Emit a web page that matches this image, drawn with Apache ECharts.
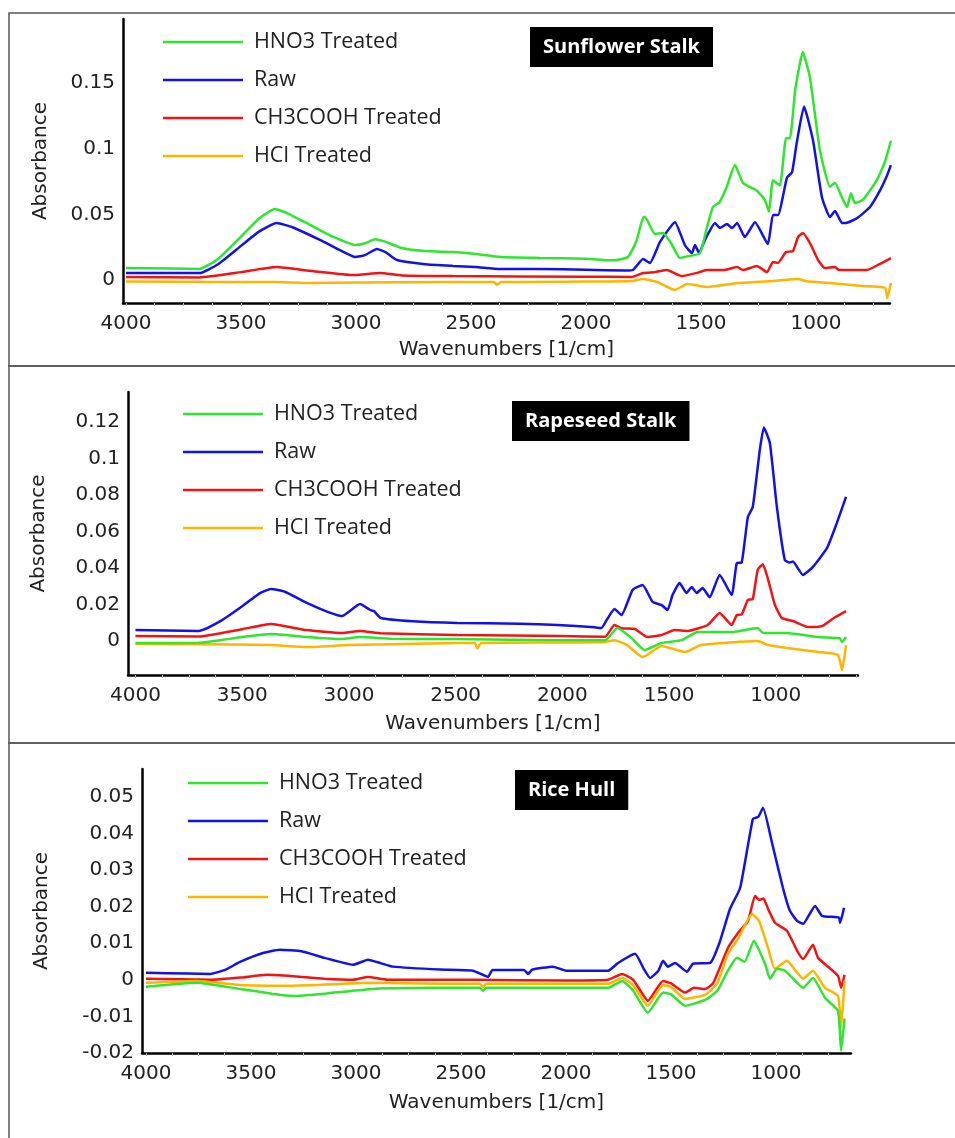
<!DOCTYPE html>
<html>
<head>
<meta charset="utf-8">
<script src="https://cdn.jsdelivr.net/npm/echarts@6/dist/echarts.min.js"></script>
<style>
  html, body { margin: 0; padding: 0; background: #fff; }
  #chart { width: 955px; height: 1138px; }
</style>
</head>
<body>
<div id="chart"></div>
<script>
// legend names, panel titles, tick values
const seriesNames = ["HNO3 Treated", "Raw", "CH3COOH Treated", "HCl Treated"];
const colors = ["#2ee62e", "#1212e8", "#f21414", "#ffb400"];
const panelTitles = ["Sunflower Stalk", "Rapeseed Stalk", "Rice Hull"];
const xTicks = [1000, 1500, 2000, 2500, 3000, 3500, 4000];
const yTicksSun = [0, 0.05, 0.1, 0.15];
const yTicksRape = [0, 0.02, 0.04, 0.06, 0.08, 0.1, 0.12];
const yTicksRice = [-0.02, -0.01, 0, 0.01, 0.02, 0.03, 0.04, 0.05];

// Sunflower stalk spectra [wavenumber, absorbance]
const sunHNO3 = [[4000,0.0091],[3800,0.0088],[3680,0.0084],[3600,0.016],[3500,0.033],[3420,0.047],[3352,0.054],[3300,0.051],[3200,0.042],[3100,0.033],[3004,0.0266],[2960,0.028],[2917,0.031],[2870,0.029],[2800,0.0243],[2700,0.022],[2578,0.0213],[2480,0.0198],[2370,0.0175],[2200,0.0168],[2000,0.0162],[1880,0.015],[1817,0.0175],[1780,0.03],[1750,0.048],[1743,0.048],[1700,0.035],[1665,0.0357],[1630,0.028],[1591,0.0167],[1560,0.018],[1504,0.0205],[1474,0.040],[1448,0.0556],[1420,0.059],[1390,0.07],[1352,0.0875],[1317,0.0738],[1257,0.068],[1222,0.061],[1204,0.052],[1187,0.076],[1157,0.072],[1130,0.108],[1113,0.108],[1090,0.145],[1057,0.1735],[1026,0.154],[983,0.099],[939,0.071],[917,0.074],[890,0.064],[865,0.0556],[848,0.066],[830,0.0586],[796,0.061],[735,0.076],[700,0.09],[674,0.106]];
const sunRaw = [[4000,0.0053],[3800,0.0053],[3680,0.0053],[3600,0.012],[3500,0.026],[3420,0.037],[3345,0.0434],[3274,0.040],[3150,0.030],[3050,0.021],[3004,0.0175],[2960,0.019],[2909,0.0236],[2870,0.021],[2822,0.0152],[2700,0.012],[2578,0.0107],[2480,0.0099],[2374,0.0084],[2200,0.0084],[2000,0.0078],[1830,0.0072],[1796,0.0076],[1752,0.016],[1722,0.013],[1678,0.029],[1613,0.044],[1570,0.0266],[1539,0.0205],[1526,0.0266],[1509,0.021],[1474,0.0335],[1439,0.0434],[1417,0.0396],[1387,0.0426],[1365,0.0396],[1343,0.0434],[1309,0.0327],[1265,0.044],[1209,0.0274],[1187,0.0495],[1165,0.0495],[1126,0.078],[1104,0.082],[1083,0.105],[1052,0.132],[1013,0.1065],[974,0.063],[939,0.048],[917,0.0525],[887,0.0434],[870,0.0434],[822,0.047],[765,0.0556],[722,0.068],[690,0.08],[674,0.0875]];
const sunCH3COOH = [[4000,0.0023],[3680,0.002],[3500,0.006],[3345,0.0099],[3200,0.007],[3004,0.0038],[2896,0.0053],[2800,0.0035],[2578,0.003],[2000,0.0025],[1800,0.0023],[1752,0.0053],[1700,0.006],[1648,0.0076],[1583,0.003],[1520,0.0053],[1474,0.0076],[1400,0.0076],[1343,0.0099],[1317,0.0076],[1257,0.0107],[1213,0.006],[1187,0.0137],[1165,0.013],[1130,0.0213],[1100,0.022],[1078,0.0327],[1057,0.0357],[1026,0.028],[990,0.015],[961,0.0091],[917,0.0099],[900,0.0076],[778,0.0076],[722,0.0122],[674,0.0167]];
const sunHCl = [[4000,-0.0012],[3600,-0.0015],[3345,-0.0015],[3200,-0.0023],[3000,-0.0018],[2600,-0.0015],[2400,-0.0015],[2387,-0.0038],[2370,-0.0015],[2000,-0.0012],[1800,-0.0008],[1752,0.0008],[1690,-0.0015],[1613,-0.0076],[1560,-0.003],[1470,-0.0053],[1340,-0.0023],[1187,-0.0008],[1078,0.0008],[1040,-0.001],[939,-0.0023],[800,-0.0046],[700,-0.006],[690,-0.0137],[674,-0.0023]];

// Rapeseed stalk spectra
const rapeHNO3 = [[4000,-0.0011],[3704,-0.001],[3600,0.0005],[3500,0.0022],[3366,0.0038],[3200,0.0022],[3033,0.0011],[2948,0.0022],[2800,0.0013],[2493,0.0011],[2000,0.0005],[1800,0.0005],[1742,0.0071],[1676,0.0016],[1615,-0.005],[1535,-0.0011],[1441,0.0005],[1366,0.005],[1200,0.005],[1085,0.0071],[1060,0.0044],[950,0.0044],[800,0.0022],[700,0.0015],[690,-0.0005],[671,0.0022]];
const rapeRaw = [[4000,0.006],[3704,0.0055],[3600,0.011],[3500,0.019],[3420,0.026],[3366,0.0285],[3300,0.027],[3200,0.021],[3100,0.016],[3033,0.0137],[2948,0.0203],[2900,0.017],[2883,0.0164],[2850,0.0126],[2700,0.0108],[2493,0.0099],[2200,0.0095],[2024,0.0088],[1850,0.0075],[1817,0.0071],[1790,0.012],[1756,0.0175],[1723,0.0142],[1671,0.028],[1624,0.0307],[1577,0.0214],[1535,0.0197],[1507,0.017],[1484,0.0252],[1451,0.0318],[1418,0.0263],[1394,0.0296],[1371,0.0263],[1343,0.029],[1310,0.024],[1263,0.0362],[1207,0.0252],[1183,0.0427],[1160,0.043],[1131,0.068],[1108,0.0734],[1075,0.1047],[1056,0.117],[1028,0.1085],[995,0.0734],[958,0.0444],[935,0.043],[920,0.0436],[873,0.0362],[827,0.0405],[760,0.051],[714,0.0647],[671,0.079]];
const rapeCH3COOH = [[4000,0.0027],[3704,0.0025],[3500,0.0065],[3366,0.0093],[3200,0.006],[3033,0.0044],[2948,0.0055],[2850,0.0042],[2493,0.0033],[2000,0.0027],[1800,0.0024],[1756,0.0088],[1723,0.007],[1660,0.0066],[1601,0.0022],[1535,0.0033],[1474,0.006],[1413,0.0055],[1319,0.0088],[1263,0.0153],[1207,0.0088],[1183,0.0142],[1160,0.0145],[1131,0.0225],[1108,0.023],[1085,0.039],[1061,0.042],[1038,0.0345],[1005,0.02],[972,0.0126],[920,0.011],[850,0.0077],[784,0.0082],[723,0.013],[671,0.0164]];
const rapeHCl = [[4000,-0.0016],[3700,-0.0018],[3366,-0.0022],[3197,-0.0033],[3000,-0.0022],[2493,-0.0011],[2410,-0.0011],[2399,-0.004],[2380,-0.0011],[2000,-0.0008],[1800,-0.0005],[1756,0.0005],[1700,-0.002],[1624,-0.0088],[1535,-0.0027],[1490,-0.004],[1427,-0.006],[1350,-0.0022],[1085,0.0],[1040,-0.002],[948,-0.0038],[800,-0.006],[709,-0.0077],[690,-0.016],[671,-0.0022]];

// Rice hull spectra
const riceHNO3 = [[4000,-0.0019],[3757,-0.0008],[3552,-0.0025],[3400,-0.0038],[3300,-0.0044],[3150,-0.0038],[2919,-0.0025],[2600,-0.0022],[2410,-0.0022],[2395,-0.003],[2380,-0.0022],[2000,-0.0022],[1800,-0.0022],[1733,-0.0003],[1680,-0.003],[1610,-0.009],[1538,-0.0035],[1500,-0.004],[1433,-0.0071],[1338,-0.0055],[1280,-0.003],[1229,0.0025],[1186,0.006],[1150,0.0049],[1105,0.0107],[1080,0.008],[1050,0.004],[1029,0.0003],[995,0.003],[957,0.0025],[900,-0.0008],[871,-0.0022],[824,0.0005],[767,-0.0049],[705,-0.0085],[690,-0.0194],[674,-0.0106]];
const riceRaw = [[4000,0.0019],[3800,0.0017],[3695,0.0016],[3620,0.0028],[3552,0.0049],[3450,0.0072],[3362,0.0082],[3260,0.0078],[3150,0.006],[3014,0.0041],[2943,0.0055],[2880,0.0045],[2824,0.0036],[2600,0.0028],[2443,0.0025],[2371,0.0008],[2350,0.0027],[2200,0.0027],[2181,0.0016],[2160,0.0028],[2062,0.0036],[2000,0.0025],[1800,0.0025],[1752,0.0046],[1671,0.0071],[1630,0.003],[1600,0.0005],[1560,0.0025],[1538,0.0052],[1515,0.0036],[1481,0.0046],[1424,0.0022],[1395,0.0044],[1314,0.0046],[1270,0.01],[1219,0.0194],[1171,0.0251],[1110,0.044],[1085,0.0445],[1062,0.047],[1019,0.0374],[967,0.0251],[935,0.019],[900,0.0161],[871,0.0153],[814,0.0202],[781,0.0175],[700,0.017],[695,0.0156],[676,0.0197]];
const riceCH3COOH = [[4000,0.0003],[3695,0.0],[3550,0.0006],[3424,0.0014],[3300,0.001],[3150,0.0003],[3014,0.0],[2943,0.0008],[2850,0.0],[2443,0.0],[2000,-0.0002],[1800,0.0],[1733,0.0016],[1680,0.0],[1610,-0.0057],[1538,-0.0003],[1500,-0.001],[1433,-0.0035],[1390,-0.0022],[1338,-0.0025],[1300,-0.001],[1229,0.0087],[1181,0.0128],[1133,0.0161],[1100,0.023],[1080,0.0218],[1060,0.0222],[1038,0.0194],[1005,0.0156],[948,0.0134],[900,0.008],[871,0.0057],[824,0.0096],[800,0.006],[705,0.0011],[690,-0.0022],[674,0.0014]];
const riceHCl = [[4000,-0.0008],[3757,-0.0003],[3552,-0.0014],[3314,-0.0016],[3100,-0.0012],[2948,-0.0008],[2600,-0.0011],[2410,-0.0011],[2395,-0.002],[2380,-0.0011],[2000,-0.0011],[1800,-0.0011],[1733,0.0005],[1680,-0.0015],[1610,-0.0071],[1538,-0.0014],[1500,-0.002],[1433,-0.0052],[1338,-0.0041],[1280,-0.001],[1229,0.0071],[1181,0.0112],[1114,0.018],[1080,0.016],[1038,0.0087],[1005,0.003],[948,0.0052],[900,0.002],[871,0.0003],[824,0.0025],[767,-0.0022],[705,-0.0044],[690,-0.013],[674,-0.0003]];

const panelData = [
  [sunHNO3, sunRaw, sunCH3COOH, sunHCl],
  [rapeHNO3, rapeRaw, rapeCH3COOH, rapeHCl],
  [riceHNO3, riceRaw, riceCH3COOH, riceHCl],
];

// layout per panel (pixels)
const panels = [
  { grid: { left: 123, top: 19, width: 767, height: 284 }, xMin: 678, xMax: 4013, yMin: -0.0175, yMax: 0.1987, yTicks: yTicksSun, yGap: 72, xGap: 37, legend: { left: 158, top: 26 }, title: { left: 530, top: 27 }, box: [9, 13, 960, 353] },
  { grid: { left: 128, top: 392, width: 730, height: 283 }, xMin: 615, xMax: 4035, yMin: -0.0186, yMax: 0.1364, yTicks: yTicksRape, yGap: 79, xGap: 39, legend: { left: 178, top: 398 }, title: { left: 512, top: 401 }, box: [9, 366, 960, 377] },
  { grid: { left: 142, top: 769, width: 709, height: 284 }, xMin: 643, xMax: 4019, yMin: -0.02, yMax: 0.0576, yTicks: yTicksRice, yGap: 90, xGap: 40, legend: { left: 183, top: 767 }, title: { left: 515, top: 770 }, box: [9, 743, 960, 420] },
];

const labelFont = { fontSize: 20, color: "#222", fontFamily: "DejaVu Sans" };

const chart = echarts.init(document.getElementById("chart"), null, { renderer: "canvas" });

const option = {
  backgroundColor: "#fff",
  animation: false,
  grid: panels.map((p) => p.grid),
  title: panels.map((p, i) => ({
    text: panelTitles[i],
    left: p.title.left,
    top: p.title.top,
    backgroundColor: "#000",
    padding: [10, 13, 10, 13],
    textStyle: { color: "#fff", fontSize: 20, fontWeight: "bold", fontFamily: "Open Sans" },
  })),
  legend: panels.map((p) => ({
    data: seriesNames,
    orient: "vertical",
    left: p.legend.left,
    top: p.legend.top,
    icon: "rect",
    itemWidth: 80,
    itemHeight: 2.5,
    itemGap: 16,
    selectedMode: false,
    textStyle: { fontSize: 21.5, color: "#222", fontFamily: "Open Sans", lineHeight: 22, padding: [0, 0, 0, 6] },
  })),
  xAxis: panels.map((p, i) => ({
    type: "value",
    gridIndex: i,
    inverse: true,
    min: p.xMin,
    max: p.xMax,
    name: "Wavenumbers [1/cm]",
    nameLocation: "middle",
    nameGap: p.xGap,
    nameTextStyle: labelFont,
    axisLine: { show: true, onZero: false, lineStyle: { color: "#000", width: 2.5 } },
    axisTick: { show: true, length: 3, customValues: xTicks, lineStyle: { color: "#aaa" } },
    minorTick: { show: true, splitNumber: 4, length: 3, lineStyle: { color: "#bbb" } },
    splitLine: { show: false },
    axisLabel: Object.assign({ customValues: xTicks, margin: 11, formatter: (v) => String(v) }, labelFont),
  })),
  yAxis: panels.map((p, i) => ({
    type: "value",
    gridIndex: i,
    min: p.yMin,
    max: p.yMax,
    name: "Absorbance",
    nameLocation: "middle",
    nameRotate: 90,
    nameGap: p.yGap,
    nameTextStyle: labelFont,
    axisLine: { show: true, onZero: false, lineStyle: { color: "#000", width: 2.5 } },
    axisTick: { show: false },
    splitLine: { show: false },
    axisLabel: Object.assign({ customValues: p.yTicks, margin: 8, formatter: (v) => String(v) }, labelFont),
  })),
  graphic: panels.map((p) => ({
    type: "rect",
    shape: { x: p.box[0], y: p.box[1], width: p.box[2], height: p.box[3] },
    style: { fill: "none", stroke: "#555", lineWidth: 1.5 },
    silent: true,
    z: -1,
  })),
  series: [],
};

panelData.forEach((sets, pi) => {
  sets.forEach((data, si) => {
    option.series.push({
      name: seriesNames[si],
      type: "line",
      xAxisIndex: pi,
      yAxisIndex: pi,
      data: data,
      symbol: "none",
      smooth: 0.15,
      lineStyle: { color: colors[si], width: 2.5 },
      itemStyle: { color: colors[si] },
      z: si === 0 ? 3 : 2,
    });
  });
});

chart.setOption(option);
</script>
</body>
</html>
